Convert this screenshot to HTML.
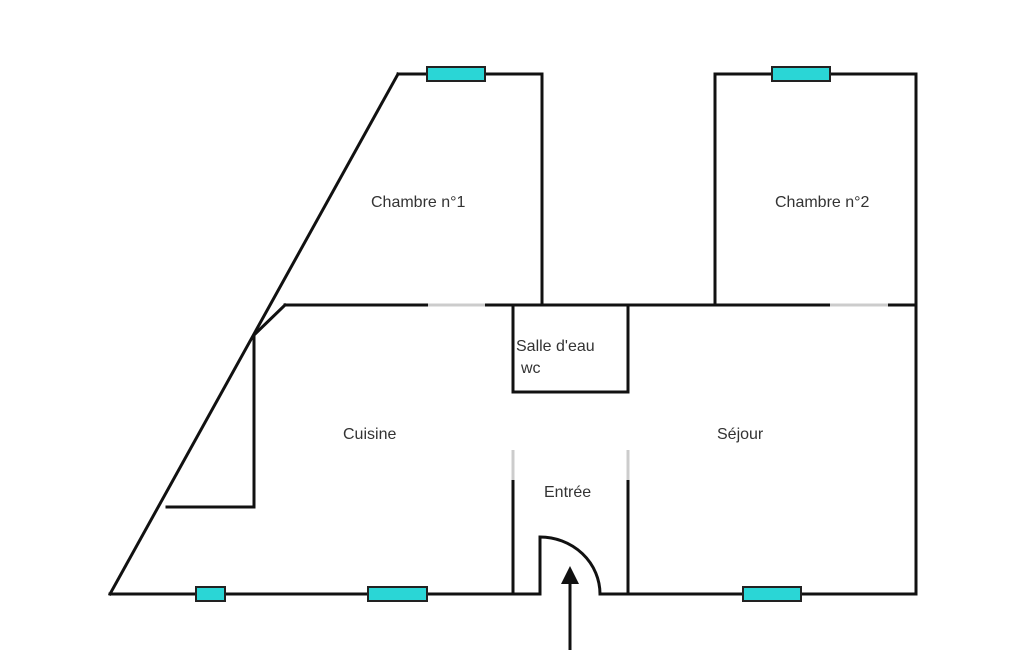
<!DOCTYPE html>
<html><head><style>body{margin:0;background:#fff}svg{display:block}</style></head><body>
<svg width="1025" height="650" viewBox="0 0 1025 650" xmlns="http://www.w3.org/2000/svg">
<g stroke="#111" stroke-width="3" fill="none" stroke-linecap="square">
<line x1="398" y1="74" x2="110" y2="594"/>
<polyline points="398,74 542,74 542,305"/>
<polyline points="715,305 715,74 916,74 916,594"/>
<line x1="285" y1="305" x2="428" y2="305"/>
<line x1="485" y1="305" x2="830" y2="305"/>
<line x1="888" y1="305" x2="916" y2="305"/>
<polyline points="285,305 254,335 254,507 167,507"/>
<rect x="513" y="305" width="115" height="87"/>
<line x1="110" y1="594" x2="540" y2="594"/>
<line x1="600" y1="594" x2="916" y2="594"/>
<line x1="513" y1="480" x2="513" y2="594"/>
<line x1="628" y1="480" x2="628" y2="594"/>
<path d="M540,594 L540,537 A60,57 0 0 1 600,594"/>
<line x1="570" y1="585" x2="570" y2="650"/>
</g>
<g stroke="#ccc" stroke-width="3">
<line x1="428" y1="305" x2="485" y2="305"/>
<line x1="830" y1="305" x2="888" y2="305"/>
<line x1="513" y1="450" x2="513" y2="480"/>
<line x1="628" y1="450" x2="628" y2="480"/>
</g>
<polygon points="570,566 561,584 579,584" fill="#111"/>
<g fill="#2ad6d6" stroke="#222" stroke-width="2">
<rect x="427" y="67" width="58" height="14"/>
<rect x="772" y="67" width="58" height="14"/>
<rect x="196" y="587" width="29" height="14"/>
<rect x="368" y="587" width="59" height="14"/>
<rect x="743" y="587" width="58" height="14"/>
</g>
<g font-family="Liberation Sans, sans-serif" font-size="16" fill="#333">
<text x="371" y="207">Chambre n°1</text>
<text x="775" y="207">Chambre n°2</text>
<text x="516" y="351">Salle d'eau</text>
<text x="521" y="373">wc</text>
<text x="343" y="439">Cuisine</text>
<text x="717" y="439">Séjour</text>
<text x="544" y="497">Entrée</text>
</g>
</svg>
</body></html>
